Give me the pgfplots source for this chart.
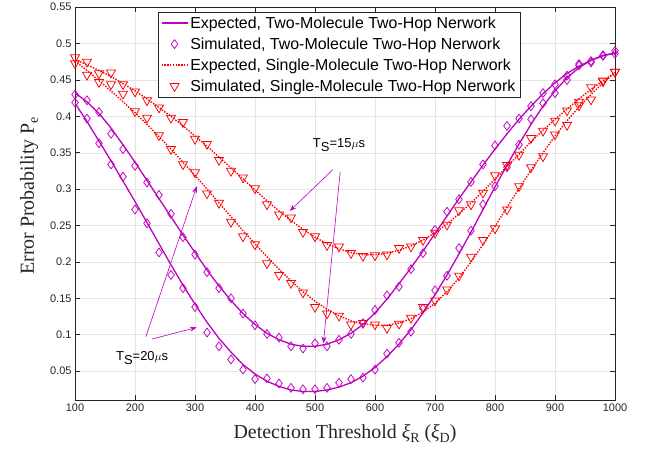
\documentclass[border=0pt]{standalone}
\usepackage{fontspec}
\setmainfont{Liberation Sans}
\newfontfamily\timesfont{Liberation Serif}
\usepackage{pgfplots}
\pgfplotsset{compat=1.18}
\usetikzlibrary{arrows.meta}

\definecolor{mag}{RGB}{191,0,191}
\definecolor{tickgray}{RGB}{38,38,38}

% two-molecule, T_S = 20 us
\pgfplotstableread{
x y
100 0.418
120 0.393
140 0.366
160 0.339
180 0.311
200 0.283
220 0.254
240 0.225
260 0.196
280 0.168
300 0.142
320 0.117
340 0.095
360 0.076
380 0.059
400 0.046
420 0.036
440 0.029
460 0.024
480 0.022
500 0.022
520 0.024
540 0.028
560 0.034
580 0.043
600 0.055
620 0.070
640 0.087
660 0.107
680 0.130
700 0.155
720 0.182
740 0.211
760 0.241
780 0.272
800 0.303
820 0.333
840 0.362
860 0.389
880 0.414
900 0.435
920 0.453
940 0.467
960 0.477
980 0.484
1000 0.487
}\expA
\pgfplotstableread{
x y
100 0.419
120 0.397
140 0.363
160 0.334
180 0.317
200 0.272
220 0.253
240 0.213
260 0.182
280 0.164
300 0.138
320 0.103
340 0.084
360 0.066
380 0.052
400 0.039
420 0.040
440 0.033
460 0.027
480 0.025
500 0.025
520 0.027
540 0.034
560 0.039
580 0.041
600 0.052
620 0.074
640 0.089
660 0.104
680 0.136
700 0.161
720 0.181
740 0.219
760 0.243
780 0.279
800 0.304
820 0.330
840 0.361
860 0.396
880 0.418
900 0.432
920 0.450
940 0.470
960 0.476
980 0.483
1000 0.486
}\simA

% two-molecule, T_S = 15 us
\pgfplotstableread{
x y
100 0.432
120 0.420
140 0.404
160 0.384
180 0.361
200 0.337
220 0.312
240 0.287
260 0.262
280 0.237
300 0.213
320 0.189
340 0.167
360 0.147
380 0.129
400 0.114
420 0.102
440 0.093
460 0.087
480 0.084
500 0.084
520 0.087
540 0.093
560 0.102
580 0.114
600 0.130
620 0.149
640 0.170
660 0.192
680 0.215
700 0.239
720 0.263
740 0.287
760 0.310
780 0.333
800 0.355
820 0.376
840 0.396
860 0.414
880 0.431
900 0.446
920 0.459
940 0.469
960 0.477
980 0.483
1000 0.487
}\expB
\pgfplotstableread{
x y
100 0.430
120 0.422
140 0.406
160 0.376
180 0.355
200 0.332
220 0.309
240 0.292
260 0.266
280 0.234
300 0.210
320 0.186
340 0.164
360 0.150
380 0.129
400 0.113
420 0.101
440 0.096
460 0.084
480 0.081
500 0.088
520 0.084
540 0.093
560 0.101
580 0.116
600 0.134
620 0.154
640 0.166
660 0.190
680 0.212
700 0.244
720 0.269
740 0.286
760 0.310
780 0.334
800 0.360
820 0.387
840 0.397
860 0.414
880 0.432
900 0.444
920 0.456
940 0.472
960 0.474
980 0.484
1000 0.490
}\simB

% single-molecule, T_S = 20 us
\pgfplotstableread{
x y
100 0.476
120 0.463
140 0.449
160 0.435
180 0.420
200 0.405
220 0.389
240 0.372
260 0.355
280 0.337
300 0.319
320 0.300
340 0.281
360 0.262
380 0.243
400 0.225
420 0.207
440 0.190
460 0.174
480 0.159
500 0.146
520 0.135
540 0.126
560 0.119
580 0.115
600 0.113
620 0.113
640 0.116
660 0.122
680 0.131
700 0.143
720 0.159
740 0.178
760 0.200
780 0.224
800 0.249
820 0.275
840 0.301
860 0.326
880 0.350
900 0.373
920 0.394
940 0.413
960 0.430
980 0.446
1000 0.460
}\expC
\pgfplotstableread{
x y
100 0.473
120 0.457
140 0.447
160 0.444
180 0.431
200 0.407
220 0.398
240 0.374
260 0.355
280 0.334
300 0.323
320 0.294
340 0.281
360 0.255
380 0.235
400 0.224
420 0.198
440 0.182
460 0.171
480 0.158
500 0.138
520 0.129
540 0.126
560 0.114
580 0.116
600 0.114
620 0.109
640 0.115
660 0.123
680 0.138
700 0.147
720 0.162
740 0.181
760 0.207
780 0.230
800 0.246
820 0.272
840 0.304
860 0.330
880 0.345
900 0.375
920 0.388
940 0.415
960 0.423
980 0.448
1000 0.461
}\simC

% single-molecule, T_S = 15 us
\pgfplotstableread{
x y
100 0.478
120 0.471
140 0.463
160 0.455
180 0.445
200 0.435
220 0.424
240 0.412
260 0.400
280 0.387
300 0.373
320 0.359
340 0.344
360 0.329
380 0.314
400 0.299
420 0.284
440 0.270
460 0.257
480 0.245
500 0.234
520 0.225
540 0.218
560 0.213
580 0.210
600 0.210
620 0.212
640 0.216
660 0.222
680 0.230
700 0.240
720 0.252
740 0.266
760 0.281
780 0.297
800 0.314
820 0.331
840 0.348
860 0.365
880 0.381
900 0.396
920 0.410
940 0.424
960 0.437
980 0.449
1000 0.460
}\expD
\pgfplotstableread{
x y
100 0.481
120 0.475
140 0.459
160 0.460
180 0.444
200 0.434
220 0.422
240 0.412
260 0.398
280 0.392
300 0.369
320 0.362
340 0.340
360 0.325
380 0.316
400 0.301
420 0.279
440 0.265
460 0.261
480 0.241
500 0.235
520 0.223
540 0.221
560 0.212
580 0.208
600 0.209
620 0.210
640 0.219
660 0.221
680 0.230
700 0.240
720 0.251
740 0.271
760 0.279
780 0.295
800 0.319
820 0.333
840 0.347
860 0.370
880 0.380
900 0.394
920 0.408
940 0.420
960 0.440
980 0.449
1000 0.461
}\simD

\begin{document}
\begin{tikzpicture}
\begin{axis}[
	scale only axis,
	width=540bp, height=393bp,
	xmin=100, xmax=1000,
	ymin=0.01, ymax=0.55,
	xtick={100,200,...,1000},
	ytick={0.05,0.1,0.15,0.2,0.25,0.3,0.35,0.4,0.45,0.5,0.55},
	tick align=inside,
	major tick length=5bp,
	tick style={tickgray, line width=0.6bp},
	axis line style={tickgray, line width=0.6bp},
	grid=major,
	major grid style={gray!20, line width=0.5bp},
	/pgf/number format/assume math mode=true,
	/pgf/number format/fixed,
	/pgf/number format/1000 sep={},
	ticklabel style={font=\fontsize{11}{11}\selectfont, text=tickgray},
	xlabel={\timesfont\fontsize{20}{20}\selectfont Detection Threshold \textit{ξ}\raisebox{-0.45ex}{\fontsize{14}{14}\selectfont R} (\textit{ξ}\raisebox{-0.45ex}{\fontsize{14}{14}\selectfont D})},
	ylabel={\timesfont\fontsize{20}{20}\selectfont Error Probability P\raisebox{-0.45ex}{\fontsize{14}{14}\selectfont e}},
	xlabel style={at={(axis description cs:0.5,-0.085)}, anchor=center, text=tickgray},
	ylabel style={at={(axis description cs:-0.085,0.52)}, anchor=center, rotate=0, text=tickgray},
	legend cell align=left,
	legend style={at={(rel axis cs:0.154,0.988)}, anchor=north west,
		font=\fontsize{16}{17}\selectfont, draw=tickgray,
		inner sep=2.5bp, row sep=4bp, fill=white},
	legend image code/.code={\draw[mark repeat=2, mark phase=2] plot coordinates {(0bp,0bp) (13bp,0bp) (26bp,0bp)};},
	clip=false
]
\addplot[mag, line width=1.3bp] table {\expA};
\addlegendentry{Expected, Two-Molecule Two-Hop Nerwork}
\addplot[only marks, mag, mark=diamond, mark size=4.4bp, line width=0.75bp] table {\simA};
\addlegendentry{Simulated, Two-Molecule Two-Hop Nerwork}
\addplot[red, line width=1.4bp, dash pattern=on 1.4bp off 1.4bp] table {\expC};
\addlegendentry{Expected, Single-Molecule Two-Hop Nerwork}
\addplot[only marks, red, mark=triangle, mark size=5.2bp, line width=0.75bp, mark options={rotate=180}] table {\simC};
\addlegendentry{Simulated, Single-Molecule Two-Hop Nerwork}

\addplot[mag, line width=1.3bp, forget plot] table {\expB};
\addplot[only marks, mag, mark=diamond, mark size=4.4bp, line width=0.75bp, forget plot] table {\simB};
\addplot[red, line width=1.4bp, dash pattern=on 1.4bp off 1.4bp, forget plot] table {\expD};
\addplot[only marks, red, mark=triangle, mark size=5.2bp, line width=0.75bp, mark options={rotate=180}, forget plot] table {\simD};

% annotations
\draw[mag, line width=0.6bp, -{Stealth[length=7bp, width=5bp]}] (axis cs:530,0.327) -- (axis cs:458,0.270);
\draw[mag, line width=0.6bp, -{Stealth[length=7bp, width=5bp]}] (axis cs:542,0.324) -- (axis cs:514,0.088);
\draw[mag, line width=0.6bp, -{Stealth[length=7bp, width=5bp]}] (axis cs:218,0.097) -- (axis cs:303,0.304);
\draw[mag, line width=0.6bp, -{Stealth[length=7bp, width=5bp]}] (axis cs:228,0.094) -- (axis cs:303,0.110);
\node[font=\fontsize{13}{13}\selectfont] at (axis cs:540,0.360) {T\raisebox{-0.6ex}{S}=15$\mu$s};
\node[font=\fontsize{13}{13}\selectfont] at (axis cs:212,0.068) {T\raisebox{-0.6ex}{S}=20$\mu$s};

\coordinate (bl) at (rel axis cs:0,0);
\coordinate (tr) at (rel axis cs:1,1);
\end{axis}
\path ([shift={(-75bp,-59bp)}]bl) rectangle ([shift={(30bp,6bp)}]tr);
\end{tikzpicture}
\end{document}
